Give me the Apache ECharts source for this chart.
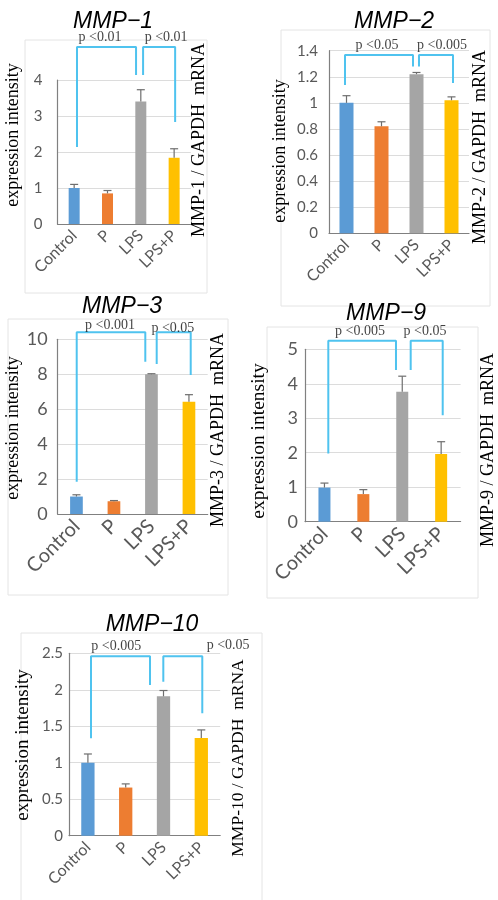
<!DOCTYPE html>
<html><head><meta charset="utf-8">
<script src="https://cdn.jsdelivr.net/npm/echarts@6/dist/echarts.min.js"></script>
<style>html,body{margin:0;padding:0;background:#fff}#c{width:498px;height:900px}</style>
</head><body><div id="c"></div>
<script>
// ---------- DATA ----------
const categories = ['Control', 'P', 'LPS', 'LPS+P'];
const panelTitles = ['MMP−1', 'MMP−2', 'MMP−3', 'MMP−9', 'MMP−10'];
const rightLabels = ['MMP-1 / GAPDH  mRNA', 'MMP-2 / GAPDH  mRNA', 'MMP-3 / GAPDH  mRNA', 'MMP-9 / GAPDH  mRNA', 'MMP-10 / GAPDH  mRNA'];
const leftLabel = 'expression intensity';

const mmp1Values = [1.0, 0.85, 3.4, 1.84];
const mmp1Errors = [0.1, 0.08, 0.33, 0.25];
const mmp2Values = [1.0, 0.82, 1.22, 1.02];
const mmp2Errors = [0.055, 0.035, 0.013, 0.026];
const mmp3Values = [1.0, 0.73, 8.0, 6.43];
const mmp3Errors = [0.1, 0.04, 0.03, 0.4];
const mmp9Values = [0.99, 0.8, 3.77, 1.96];
const mmp9Errors = [0.13, 0.13, 0.45, 0.36];
const mmp10Values = [1.0, 0.66, 1.91, 1.34];
const mmp10Errors = [0.12, 0.05, 0.08, 0.11];

const yMaxes = [4, 1.4, 10, 5, 2.5];
const yIntervals = [1, 0.2, 2, 1, 0.5];

// significance brackets, in (category index, value) units
const mmp1Brackets = [[[0.085, 2.14], [0.085, 4.92], [1.857, 4.92], [1.857, 4.14]], [[2.068, 4.14], [2.068, 4.92], [3.03, 4.92], [3.03, 2.83]]];
const mmp2Brackets = [[[-0.043, 1.137], [-0.043, 1.367], [1.9, 1.367], [1.9, 1.278]], [[2.071, 1.278], [2.071, 1.367], [3.043, 1.367], [3.043, 1.153]]];
const mmp3Brackets = [[[0.007, 1.85], [0.007, 10.4], [1.836, 10.4], [1.836, 8.72]], [[2.14, 8.59], [2.14, 10.4], [3.047, 10.4], [3.047, 7.96]]];
const mmp9Brackets = [[[0.099, 1.98], [0.099, 5.25], [1.839, 5.25], [1.839, 4.40]], [[2.217, 4.40], [2.217, 5.25], [3.04, 5.25], [3.04, 3.09]]];
const mmp10Brackets = [[[0.082, 1.334], [0.082, 2.46], [1.643, 2.46], [1.643, 2.064]], [[1.995, 2.11], [1.995, 2.46], [3.026, 2.46], [3.026, 1.677]]];

const mmp1PLabels = [[0.776, 5.19, 'p <0.01'], [2.76, 5.19, 'p <0.01']];
const mmp2PLabels = [[0.871, 1.444, 'p <0.05'], [2.729, 1.444, 'p <0.005']];
const mmp3PLabels = [[0.895, 10.82, 'p <0.001'], [2.57, 10.65, 'p <0.05']];
const mmp9PLabels = [[0.914, 5.51, 'p <0.005'], [2.585, 5.51, 'p <0.05']];
const mmp10PLabels = [[0.75, 2.59, 'p <0.005'], [3.71, 2.61, 'p <0.05']];

// ---------- STYLE / LAYOUT ----------
const barColors = ['#5B9BD5', '#ED7D31', '#A5A5A5', '#FFC000'];
const bracketColor = '#4FC3EF';
const valuesList = [mmp1Values, mmp2Values, mmp3Values, mmp9Values, mmp10Values];
const errorsList = [mmp1Errors, mmp2Errors, mmp3Errors, mmp9Errors, mmp10Errors];
const bracketsList = [mmp1Brackets, mmp2Brackets, mmp3Brackets, mmp9Brackets, mmp10Brackets];
const pLabelsList = [mmp1PLabels, mmp2PLabels, mmp3PLabels, mmp9PLabels, mmp10PLabels];

const layout = [
  {grid: {left: 57.5, top: 80, width: 133.3, height: 144}, barW: 11, tickFont: 15, catFont: 16, tickMargin: 15,
   title: [113, 22], left: [13, 135, 18], right: [199, 140, 18], box: [25, 40, 182, 253]},
  {grid: {left: 329, top: 50.7, width: 140, height: 182.6}, barW: 14, tickFont: 15, catFont: 16, tickMargin: 11,
   title: [394, 22], left: [280, 151, 18], right: [480, 147, 18], box: [281, 30, 209, 276]},
  {grid: {left: 57.7, top: 339.3, width: 150, height: 174.7}, barW: 12.7, tickFont: 18, catFont: 20, tickMargin: 10,
   title: [122, 307], left: [13, 428, 18], right: [218, 430, 18], box: [8, 319, 220, 276]},
  {grid: {left: 305, top: 349.3, width: 155.6, height: 172.4}, barW: 12, tickFont: 18, catFont: 20, tickMargin: 7,
   title: [386, 314], left: [259, 441, 19.5], right: [488, 450, 18], box: [267, 327, 211, 271]},
  {grid: {left: 69, top: 653.3, width: 151.2, height: 182.4}, barW: 13.3, tickFont: 15, catFont: 16, tickMargin: 6,
   title: [152, 625], left: [23, 745, 19], right: [238, 758, 17.5], box: [21, 633, 241, 280]}
];

const grids = [], xAxes = [], yAxes = [], series = [], graphics = [];

layout.forEach((L, i) => {
  grids.push(Object.assign({containLabel: false}, L.grid));
  xAxes.push({
    type: 'category', gridIndex: i, data: categories,
    axisTick: {show: false},
    axisLine: {onZero: false, lineStyle: {color: '#808080', width: 1.2}},
    axisLabel: {rotate: 45, interval: 0, color: '#595959', fontFamily: 'Lato', fontSize: L.catFont, margin: 9}
  });
  xAxes.push({type: 'value', gridIndex: i, min: -0.5, max: 3.5, show: false});
  yAxes.push({
    type: 'value', gridIndex: i, min: 0, max: yMaxes[i], interval: yIntervals[i],
    axisLine: {show: true, onZero: false, lineStyle: {color: '#808080', width: 1.2}},
    axisTick: {show: false},
    splitLine: {lineStyle: {color: '#dcdcdc'}},
    axisLabel: {color: '#595959', fontFamily: 'Lato', fontSize: L.tickFont, margin: L.tickMargin}
  });
  series.push({
    type: 'bar', xAxisIndex: 2 * i, yAxisIndex: i, barWidth: L.barW,
    data: valuesList[i].map((v, k) => ({value: v, itemStyle: {color: barColors[k]}})),
    z: 2
  });
  series.push({
    type: 'custom', xAxisIndex: 2 * i, yAxisIndex: i, z: 3,
    data: valuesList[i].map((v, k) => [k, v, errorsList[i][k]]),
    encode: {x: 0, y: 1},
    renderItem: function (params, api) {
      const k = api.value(0), v = api.value(1), e = api.value(2);
      const p0 = api.coord([k, v]);
      const p1 = api.coord([k, v + e]);
      const st = {stroke: '#6e6e6e', lineWidth: 1.2};
      return {type: 'group', children: [
        {type: 'line', shape: {x1: p0[0], y1: p0[1], x2: p1[0], y2: p1[1]}, style: st},
        {type: 'line', shape: {x1: p1[0] - 4, y1: p1[1], x2: p1[0] + 4, y2: p1[1]}, style: st}
      ]};
    }
  });
  bracketsList[i].forEach(b => {
    series.push({
      type: 'line', xAxisIndex: 2 * i + 1, yAxisIndex: i, data: b, symbol: 'none', clip: false,
      lineStyle: {color: bracketColor, width: 2}, z: 4, silent: true
    });
  });
  series.push({
    type: 'scatter', xAxisIndex: 2 * i + 1, yAxisIndex: i, data: pLabelsList[i], symbolSize: 1, clip: false,
    itemStyle: {color: 'rgba(0,0,0,0)'},
    label: {show: true, position: 'inside', formatter: p => p.data[2], color: '#111', fontFamily: 'Liberation Serif', fontSize: 14},
    z: 5, silent: true
  });
  // decorative faint frame of each sub-chart
  graphics.push({type: 'rect', shape: {x: L.box[0], y: L.box[1], width: L.box[2], height: L.box[3]},
    style: {fill: 'none', stroke: '#e4e4e4', lineWidth: 1}, z: 0, silent: true});
  graphics.push({type: 'text', x: L.title[0], y: L.title[1], z: 10,
    style: {text: panelTitles[i], font: 'italic 23px "Liberation Sans"', fill: '#000', align: 'center', verticalAlign: 'middle'}});
  graphics.push({type: 'text', x: L.left[0], y: L.left[1], rotation: Math.PI / 2, z: 10,
    style: {text: leftLabel, font: L.left[2] + 'px "Liberation Serif"', fill: '#000', align: 'center', verticalAlign: 'middle'}});
  graphics.push({type: 'text', x: L.right[0], y: L.right[1], rotation: Math.PI / 2, z: 10,
    style: {text: rightLabels[i], font: L.right[2] + 'px "Liberation Serif"', fill: '#000', align: 'center', verticalAlign: 'middle'}});
});

const chart = echarts.init(document.getElementById('c'), null, {renderer: 'canvas'});
chart.setOption({
  animation: false,
  backgroundColor: '#fff',
  grid: grids, xAxis: xAxes, yAxis: yAxes, series: series, graphic: graphics
});
</script>
</body></html>
